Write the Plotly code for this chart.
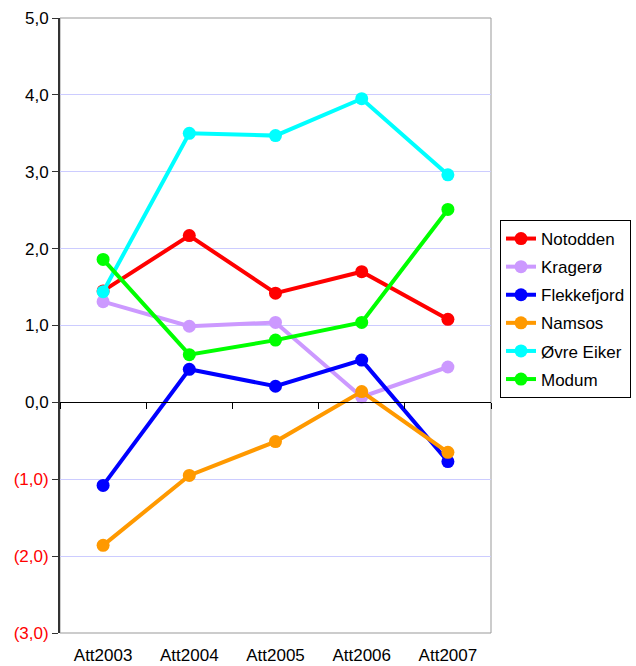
import plotly.graph_objects as go

categories = ["Att2003", "Att2004", "Att2005", "Att2006", "Att2007"]
notodden = [1.45, 2.17, 1.42, 1.70, 1.08]
kragero = [1.31, 0.99, 1.04, 0.07, 0.46]
flekkefjord = [-1.08, 0.43, 0.21, 0.55, -0.77]
namsos = [-1.86, -0.95, -0.51, 0.14, -0.65]
ovre_eiker = [1.44, 3.50, 3.47, 3.95, 2.96]
modum = [1.86, 0.62, 0.81, 1.04, 2.51]

series = [
    ("Notodden", notodden, "#FF0000"),
    ("Kragerø", kragero, "#CC99FF"),
    ("Flekkefjord", flekkefjord, "#0000FF"),
    ("Namsos", namsos, "#FF9900"),
    ("Øvre Eiker", ovre_eiker, "#00FFFF"),
    ("Modum", modum, "#00FF00"),
]

y_ticks = [-3, -2, -1, 0, 1, 2, 3, 4, 5]

def fmt(v):
    s = f"{abs(v):.1f}".replace(".", ",")
    if v < 0:
        return f"<span style='color:#FF0000'>({s})</span>"
    return s

xs = list(range(len(categories)))

fig = go.Figure()
for name, vals, col in series:
    fig.add_trace(go.Scatter(
        x=xs, y=vals, name=name, mode="lines+markers",
        line=dict(color=col, width=4),
        marker=dict(color=col, size=13),
        legendgroup=name,
    ))

# invisible trace for zero-line axis
fig.add_trace(go.Scatter(x=xs, y=[0]*len(xs), xaxis="x2", mode="none",
                         showlegend=False, hoverinfo="skip"))

fig.update_layout(
    width=636, height=666, autosize=False,
    margin=dict(l=60, r=145, t=18, b=33),
    paper_bgcolor="white", plot_bgcolor="white",
    font=dict(family="Liberation Sans, Arial, sans-serif", size=17, color="black"),
    xaxis=dict(
        range=[-0.5, len(categories) - 0.5],
        tickvals=xs, ticktext=categories,
        showgrid=False, zeroline=False, showline=False,
        ticks="", tickfont=dict(size=17), automargin=False,
        ticklabelstandoff=10,
    ),
    xaxis2=dict(
        overlaying="x", anchor="free", position=3/8,
        range=[-0.5, len(categories) - 0.5],
        tickvals=[i - 0.5 for i in range(len(categories) + 1)],
        showticklabels=False, ticks="outside", ticklen=6, tickcolor="black",
        showline=True, linecolor="black", linewidth=1, showgrid=False, zeroline=False,
        automargin=False,
    ),
    yaxis=dict(
        range=[-3, 5], tickvals=y_ticks, ticktext=[fmt(v) for v in y_ticks],
        showgrid=True, gridcolor="#CCCCFF", gridwidth=1,
        zeroline=False, showline=True, linecolor="#333333", linewidth=2,
        ticks="outside", ticklen=6, tickcolor="#333333",
        tickfont=dict(size=17), automargin=False,
    ),
    legend=dict(
        xref="container", x=500 / 636, y=1 - (220 - 18) / 615,
        xanchor="left", yanchor="top",
        bordercolor="black", borderwidth=1, bgcolor="white",
        font=dict(size=17), tracegroupgap=3, itemwidth=30,
    ),
    shapes=[dict(type="rect", xref="paper", yref="paper", x0=0, x1=1, y0=0, y1=1,
                 line=dict(color="#999999", width=1), layer="below")],
)

fig.write_html(
    "out.html",
    config={"responsive": False, "displayModeBar": False},
    post_script="document.body.style.margin='0';document.body.style.overflow='hidden';",
)
